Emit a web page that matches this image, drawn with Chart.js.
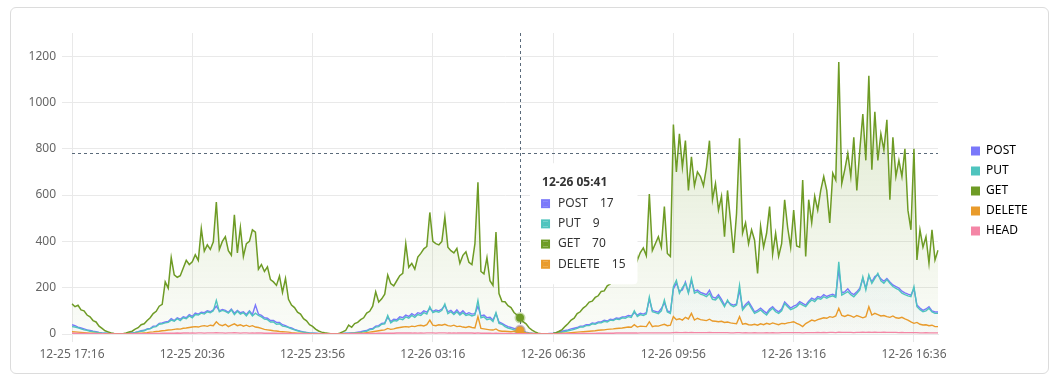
<!DOCTYPE html>
<html><head><meta charset="utf-8">
<script src="https://cdn.jsdelivr.net/npm/chart.js@4.4.1/dist/chart.umd.min.js"></script>
<style>
html,body{margin:0;padding:0;background:#fff;width:1059px;height:380px;overflow:hidden;}
#card{position:absolute;left:10px;top:7px;width:1039px;height:367px;box-sizing:border-box;border:1px solid #dcdcdc;border-radius:6px;}
#c{position:absolute;left:0;top:0;}
</style></head><body>
<div id="card"></div>
<canvas id="c" width="1059" height="380"></canvas>
<script>
// ---- data (5-minute samples, 12-25 17:16 -> 12-26 17:16) ----
const START_TIME = '2024-12-25T17:16:00Z';
const STEP_MINUTES = 5;
const TICK_LABELS = ['12-25 17:16','12-25 20:36','12-25 23:56','12-26 03:16','12-26 06:36','12-26 09:56','12-26 13:16','12-26 16:36'];
const HOVER_LABEL = '12-26 05:41';
const HOVER_VALUE = 781;
const TOOLTIP_SERIES = ['POST','PUT','GET','DELETE'];

const GET = [
130,118,124,104,100,82,74,58,52,34,24,14,9,4,2,1,0,1,4,9,12,21,27,40,
44,58,70,88,98,120,128,225,198,330,255,245,252,285,318,300,312,342,318,455,358,385,365,398,
570,365,400,420,360,340,515,350,460,335,390,400,450,440,280,300,270,290,235,225,210,250,180,240,
150,125,114,94,86,66,57,40,33,21,13,8,5,3,1,0,0,3,9,15,38,29,45,50,
62,70,90,98,120,182,138,152,172,255,218,208,230,252,262,390,288,305,280,332,348,368,378,525,
400,390,385,400,505,375,360,350,370,305,340,355,310,300,390,655,270,260,330,230,210,440,175,140,
139,122,114,93,82,70,53,44,27,17,9,3,1,0,0,0,2,6,12,19,33,45,60,68,
88,96,112,122,138,142,158,165,184,186,208,216,238,246,270,276,305,318,338,405,318,352,372,338,
605,360,390,420,375,550,348,335,905,700,865,720,835,620,765,640,700,680,640,720,835,580,650,535,
595,420,620,490,350,520,845,435,480,390,450,405,262,465,375,435,550,345,435,335,390,580,460,375,
535,380,375,665,335,580,480,595,535,620,680,620,480,695,665,1175,650,710,780,680,850,620,795,950,
750,1115,710,960,750,865,795,925,580,850,680,750,680,800,535,450,800,320,450,375,420,305,450,320,
362];

const PUT = [
32,30,27,22,18,16,12,10,8,6,4,3,2,1,1,0,0,0,1,2,4,6,9,12,
14,20,22,30,32,42,44,48,50,60,55,66,58,70,66,78,70,84,82,90,86,96,92,100,
145,96,102,98,90,104,84,98,86,92,78,96,78,90,80,74,64,62,52,52,42,44,34,32,
28,22,18,14,10,8,6,4,3,2,1,1,0,0,0,0,0,1,2,2,3,4,5,6,
6,10,12,19,20,30,32,42,44,80,48,58,56,66,62,74,68,80,72,84,80,92,86,118,
92,98,94,102,130,88,96,84,96,82,92,80,84,78,82,145,70,74,62,66,54,92,46,42,
32,26,22,18,14,9,7,5,3,2,1,0,0,0,0,1,2,4,6,8,11,14,17,20,
24,30,30,36,36,44,42,48,48,55,52,60,58,65,63,70,68,75,72,100,76,84,80,86,
160,96,92,88,100,147,95,89,204,232,176,200,219,176,240,176,183,172,168,161,175,150,147,161,
140,118,147,125,118,125,211,104,120,132,110,89,95,104,92,82,100,111,96,89,100,132,118,105,
111,118,132,125,118,135,147,140,154,150,161,155,161,165,158,312,168,175,183,170,161,175,190,247,
190,255,219,240,262,230,219,235,219,205,197,190,176,170,165,161,204,118,105,96,100,111,95,89,
89];

const POST = [
40,36,30,26,22,18,15,12,10,7,5,4,3,2,1,1,0,1,1,3,5,7,10,14,
16,22,24,34,34,46,48,52,54,66,58,70,64,74,70,84,76,90,86,94,92,100,96,104,
120,100,106,102,94,108,90,102,92,96,84,100,84,125,86,80,70,68,58,58,50,50,40,36,
30,26,20,16,12,9,7,5,4,3,2,1,1,0,0,0,1,1,2,3,4,5,6,8,
10,13,15,22,24,34,36,46,48,72,54,64,62,74,70,82,76,88,80,92,88,100,94,110,
98,104,100,108,122,96,102,90,104,88,100,86,92,86,88,120,78,82,70,72,60,88,52,46,
38,32,28,24,20,17,12,8,5,3,2,1,0,0,1,2,3,6,9,12,15,18,22,25,
28,34,34,40,40,48,46,52,52,59,56,64,62,69,67,74,74,80,78,92,82,90,86,92,
150,102,98,94,110,135,100,95,195,220,185,190,225,180,230,185,190,180,175,170,189,160,155,170,
150,125,140,130,125,130,190,110,128,140,118,96,102,112,100,90,108,118,104,96,108,138,125,112,
120,126,140,132,125,142,155,148,162,158,170,162,168,172,165,280,178,182,195,178,170,182,198,240,
198,250,225,248,255,238,228,240,225,212,205,198,185,178,172,168,195,125,112,102,108,118,100,95,
95];

const DELETE = [
10,9,8,7,6,5,4,3,2,2,1,1,0,0,0,0,0,0,0,1,1,2,3,4,
5,6,8,9,11,12,14,15,17,18,20,22,21,25,26,28,30,32,30,34,36,33,38,36,
53,40,36,42,32,38,44,36,40,34,38,32,36,30,28,24,20,18,16,14,13,11,10,9,
8,6,5,4,3,2,2,1,1,0,0,0,0,0,0,0,0,0,1,1,1,2,2,3,
3,4,6,8,10,12,14,16,18,24,20,22,26,28,30,32,30,34,32,36,38,35,40,60,
38,36,40,38,42,36,34,38,32,34,30,28,32,28,26,75,24,22,20,18,17,22,14,12,
12,11,10,12,11,15,8,5,3,2,1,0,0,0,0,0,1,1,2,3,4,5,6,7,
8,9,10,11,12,13,14,16,17,18,20,21,22,24,25,26,28,30,29,40,30,34,33,32,
53,32,35,34,38,42,36,38,75,62,66,60,72,65,89,60,68,62,60,58,64,56,55,53,
55,50,52,48,46,44,75,42,45,40,39,42,38,44,40,46,42,48,44,40,46,44,48,50,
53,46,40,32,45,52,60,56,62,66,70,68,75,72,78,111,80,76,82,78,72,80,75,70,
75,118,82,89,84,78,80,75,72,78,70,68,72,65,60,52,46,50,42,39,40,36,38,32,
32];

const HEAD = [
3,3,2,2,2,2,1,1,1,1,1,0,0,0,0,0,0,0,0,0,1,1,1,1,
1,1,2,2,2,2,3,3,3,3,3,4,3,4,4,4,5,4,5,5,4,5,5,5,
6,5,5,4,5,5,6,5,4,5,5,4,5,4,4,4,3,3,3,3,3,2,2,2,
2,2,1,1,1,1,1,0,0,0,0,0,0,0,0,0,0,0,0,0,1,1,1,1,
1,1,2,2,2,2,3,3,3,3,3,3,4,4,4,4,4,4,5,4,5,4,5,5,
5,4,5,5,5,4,4,5,4,4,4,4,4,4,3,5,3,3,3,3,2,3,2,2,
2,2,2,1,1,1,1,1,0,0,0,0,0,0,0,0,0,0,0,1,1,1,1,1,
1,2,2,2,2,2,2,3,3,3,3,3,3,4,4,4,4,4,4,4,4,5,5,5,
5,5,5,5,5,5,5,5,6,7,6,6,7,6,7,6,6,6,6,6,7,6,6,6,
6,6,6,5,5,6,6,5,6,5,5,6,5,5,5,6,5,6,5,5,6,6,6,6,
6,6,6,5,6,6,6,6,7,6,7,6,7,7,6,8,7,7,7,7,6,7,7,8,
7,8,7,8,7,7,8,7,7,7,7,6,7,6,6,6,6,6,5,5,6,5,5,5,
5];

// category labels "MM-DD HH:mm"
const CATEGORIES = [];
(function () {
  const t0 = Date.parse(START_TIME);
  const p = n => String(n).padStart(2, '0');
  for (let i = 0; i < GET.length; i++) {
    const d = new Date(t0 + i * STEP_MINUTES * 60000);
    CATEGORIES.push(p(d.getUTCMonth() + 1) + '-' + p(d.getUTCDate()) + ' ' + p(d.getUTCHours()) + ':' + p(d.getUTCMinutes()));
  }
})();
const HOVER_INDEX = CATEGORIES.indexOf(HOVER_LABEL);

// ---- styling ----
function rgba(hex, a) {
  const n = parseInt(hex.slice(1), 16);
  return 'rgba(' + (n >> 16) + ',' + ((n >> 8) & 255) + ',' + (n & 255) + ',' + a + ')';
}
function areaGradient(hex, a0, a1) {
  return (c) => {
    const area = c.chart.chartArea;
    if (!area) return 'rgba(0,0,0,0)';
    const g = c.chart.ctx.createLinearGradient(0, area.top, 0, area.bottom);
    g.addColorStop(0, rgba(hex, a0));
    g.addColorStop(1, rgba(hex, a1));
    return g;
  };
}
const SERIES = [
  { label: 'POST',   data: POST,   color: '#7a78fa', a0: 0.07, a1: 0.01, fill: true,  order: 4, width: 1.4 },
  { label: 'PUT',    data: PUT,    color: '#4fc4be', a0: 0.12, a1: 0.02, fill: true,  order: 3, width: 1.4 },
  { label: 'GET',    data: GET,    color: '#6e9b25', a0: 0.25, a1: 0.03, fill: true,  order: 2, width: 1.5 },
  { label: 'DELETE', data: DELETE, color: '#e99b2b', a0: 0.08, a1: 0.01, fill: true,  order: 1, width: 1.4 },
  { label: 'HEAD',   data: HEAD,   color: '#f486a6', a0: 0.0,  a1: 0.0,  fill: false, order: 0, width: 1.4 }
];
const GRID = '#e9e9e9';
const LEGEND_W = 121;

Chart.defaults.font.family = "'Noto Sans', sans-serif";
Chart.defaults.font.size = 12;
Chart.defaults.color = '#666';

Chart.Tooltip.positioners.mouse = function () {
  const c = this.chart;
  return { x: c.scales.x.getPixelForValue(HOVER_INDEX) + 14, y: c.scales.y.getPixelForValue(HOVER_VALUE) + 10 };
};

const crosshair = {
  id: 'crosshair',
  beforeDatasetsDraw(chart) {
    const { ctx, chartArea: a, scales: { x, y } } = chart;
    const px = Math.round(x.getPixelForValue(HOVER_INDEX)) + 0.5;
    const py = Math.round(y.getPixelForValue(HOVER_VALUE)) + 0.5;
    ctx.save();
    ctx.strokeStyle = '#5a6a7a';
    ctx.lineWidth = 1;
    ctx.setLineDash([3, 3]);
    ctx.beginPath();
    ctx.moveTo(px, a.top); ctx.lineTo(px, a.bottom);
    ctx.moveTo(a.left, py); ctx.lineTo(a.right, py);
    ctx.stroke();
    ctx.restore();
  }
};
const legendPlace = {
  id: 'legendPlace',
  beforeLayout(chart) {
    const lg = chart.legend;
    if (lg && !lg.__fixed) {
      const fit = lg.fit.bind(lg);
      lg.fit = function () { fit(); this.width = LEGEND_W; };
      lg.__fixed = true;
    }
  },
  afterLayout(chart) {
    const lg = chart.legend;
    if (lg) {
      lg.left = chart.chartArea.right + 25;
      lg.top = chart.chartArea.top;
      lg.bottom = chart.chartArea.bottom + 15;
    }
  }
};

const chart = new Chart(document.getElementById('c'), {
  type: 'line',
  data: {
    labels: CATEGORIES,
    datasets: SERIES.map(s => ({
      label: s.label,
      data: s.data,
      borderColor: s.color,
      borderWidth: s.width,
      backgroundColor: areaGradient(s.color, s.a0, s.a1),
      fill: s.fill ? 'origin' : false,
      pointRadius: 0,
      pointHoverRadius: 4,
      pointHoverBorderWidth: 3,
      pointHoverBackgroundColor: s.color,
      pointHoverBorderColor: rgba(s.color, 0.4),
      tension: 0,
      order: s.order
    }))
  },
  options: {
    responsive: false,
    animation: false,
    events: [],
    layout: { padding: { left: 0, right: 0, top: 33, bottom: 10 } },
    scales: {
      x: {
        type: 'category',
        afterFit(s) { s.height = 36; },
        grid: { color: GRID, tickLength: 8 },
        border: { color: GRID },
        ticks: {
          autoSkip: false, maxRotation: 0, minRotation: 0, padding: 5, color: '#666',
          callback: function (v) { const l = this.getLabelForValue(v); return TICK_LABELS.includes(l) ? l : null; }
        }
      },
      y: {
        min: 0, max: 1300,
        afterFit(s) { s.width = 72; },
        grid: { color: GRID, tickLength: 10 },
        border: { color: GRID },
        ticks: { stepSize: 200, includeBounds: false, padding: 6, color: '#666', callback: v => String(v) }
      }
    },
    plugins: {
      filler: { drawTime: 'beforeDatasetsDraw' },
      legend: {
        position: 'right',
        align: 'center',
        labels: {
          boxWidth: 9, boxHeight: 9, padding: 8, color: '#333', font: { size: 12 },
          generateLabels: (c) => c.data.datasets.map((d, i) => ({
            text: d.label, fillStyle: d.borderColor, strokeStyle: d.borderColor, lineWidth: 0, hidden: false, datasetIndex: i
          }))
        }
      },
      tooltip: {
        enabled: true,
        position: 'mouse',
        xAlign: 'left', yAlign: 'top',
        caretSize: 0, caretPadding: 0, cornerRadius: 4,
        backgroundColor: '#ffffff',
        titleColor: '#333', bodyColor: '#333',
        titleFont: { size: 12, weight: 'bold' },
        bodyFont: { size: 12, lineHeight: 1.35 },
        titleMarginBottom: 6, bodySpacing: 4, padding: 12,
        boxWidth: 7, boxHeight: 7, boxPadding: 7,
        multiKeyBackground: 'rgba(0,0,0,0)',
        itemSort: (a, b) => a.datasetIndex - b.datasetIndex,
        callbacks: {
          title: items => items[0].label,
          label: item => item.dataset.label + '\u2002\u2002' + item.formattedValue,
          labelColor: item => ({ borderColor: item.dataset.borderColor, backgroundColor: item.dataset.borderColor, borderWidth: 2, borderRadius: 0 })
        }
      }
    }
  },
  plugins: [crosshair, legendPlace]
});

const active = SERIES.map((s, i) => ({ datasetIndex: i, index: HOVER_INDEX }))
  .filter(e => TOOLTIP_SERIES.includes(SERIES[e.datasetIndex].label));
chart.setActiveElements(active);
chart.tooltip.setActiveElements(active, { x: 0, y: 0 });
chart.update();
</script></body></html>
